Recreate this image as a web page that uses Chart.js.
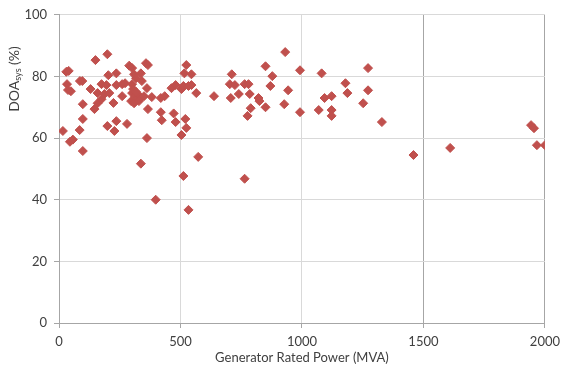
<!DOCTYPE html>
<html>
<head>
<meta charset="utf-8">
<script src="https://cdn.jsdelivr.net/npm/chart.js@4/dist/chart.umd.min.js"></script>
<style>
html,body{margin:0;padding:0;background:#fff;}
canvas{display:block;}
</style>
</head>
<body>
<canvas id="c" width="566" height="370"></canvas>
<script>
// Generator rated power (MVA)
const genPowerMVA = [
  16,30,40,33,37,49,45,57,86,96,85,98,98,98,130,150,199,146,159,175,159,187,207,175,195,203,236,236,224,260,260,272,236,199,228,280,
  289,301,309,317,337,341,358,366,362,301,305,301,313,321,329,337,350,297,309,329,317,382,419,435,463,480,504,512,533,545,524,516,545,565,
  366,419,423,472,480,520,524,504,362,573,337,398,512,533,764,
  638,711,703,724,707,740,764,780,785,789,776,821,825,850,878,870,850,931,943,927,992,992,1081,1093,1122,1069,1122,1122,1179,1187,1252,1272,1272,
  1329,1459,1610,1943,1955,1967,2000
];
// DOA_sys (%)
const doaSys = [
  62.3,81.5,81.8,77.5,75.6,75.2,58.8,59.5,78.5,78.5,62.6,71,66.2,55.8,75.9,85.3,87.2,69.4,71.3,72.6,74.6,74.3,74.6,77.5,77.2,80.4,81,77.2,71.4,73.6,77.5,77.8,65.5,63.9,62.3,64.6,
  83.5,82.7,80.7,79.4,81,78.5,84.3,83.7,76.2,77.5,75.9,74.6,73.6,72.6,73.9,73,73.6,72,71.3,72,75,73.3,73,73.6,76.2,77.2,75.9,76.9,76.9,77.2,83.7,81,80.7,74.6,
  69.4,68.4,65.8,68,65.2,66.2,63.3,61,60,53.9,51.7,40,47.7,36.7,46.8,
  73.6,80.7,77.5,77.2,73,74.3,77.5,77.5,74.3,69.7,67.2,73,72,83.3,80.1,76.9,70,87.9,75.5,71,82,68.4,81,73,73.6,69.1,69.1,67.2,77.8,74.6,71.3,82.7,75.5,
  65.2,54.5,56.8,64.2,63.2,57.7,57.7
];
const xTicks = [0, 500, 1000, 1500, 2000];
const yTicks = [0, 20, 40, 60, 80, 100];
const xTitle = 'Generator Rated Power (MVA)';
const yTitleMain = 'DOA';
const yTitleSub = 'sys';
const yTitleTail = ' (%)';

const points = genPowerMVA.map((x, i) => ({x: x, y: doaSys[i]}));

const LIGHT = '#d9d9d9';
const DARK = '#a6a6a6';
const TEXT = '#404040';
const FONT = 'Lato, "Open Sans", sans-serif';

const titlePlugin = {
  id: 'titles',
  afterDraw(chart) {
    const c = chart.ctx;
    const ca = chart.chartArea;
    c.save();
    c.fillStyle = TEXT;
    c.font = '13px ' + FONT;
    c.textAlign = 'center';
    c.textBaseline = 'middle';
    c.fillText(xTitle, (ca.left + ca.right) / 2, 358);
    // y title, rotated, with subscript
    const mainFont = '14px ' + FONT;
    const subFont = '9px ' + FONT;
    c.font = mainFont; const w1 = c.measureText(yTitleMain).width;
    c.font = subFont; const w2 = c.measureText(yTitleSub).width;
    c.font = mainFont; const w3 = c.measureText(yTitleTail).width;
    const total = w1 + w2 + w3;
    c.translate(14, 79);
    c.rotate(-Math.PI / 2);
    c.textAlign = 'left';
    c.textBaseline = 'middle';
    let x0 = -total / 2;
    c.font = mainFont; c.fillText(yTitleMain, x0, 0); x0 += w1;
    c.font = subFont; c.fillText(yTitleSub, x0, 4); x0 += w2;
    c.font = mainFont; c.fillText(yTitleTail, x0, 0);
    c.restore();
  }
};

new Chart(document.getElementById('c'), {
  type: 'scatter',
  data: {
    datasets: [{
      data: points,
      pointStyle: 'rectRot',
      pointRadius: 4.5,
      pointHoverRadius: 4.5,
      backgroundColor: '#C0504D',
      borderColor: '#C0504D',
      borderWidth: 1
    }]
  },
  options: {
    responsive: false,
    animation: false,
    events: [],
    layout: {padding: {top: 13, right: 15, bottom: 0, left: 0}},
    plugins: {legend: {display: false}, tooltip: {enabled: false}},
    scales: {
      x: {
        type: 'linear',
        min: 0, max: 2000,
        afterBuildTicks(scale) { scale.ticks = xTicks.map(v => ({value: v})); },
        afterFit(scale) { scale.height = 47; },
        border: {display: true, color: DARK, width: 1},
        grid: {
          color: ctx => ([0, 1500, 2000].includes(ctx.tick && ctx.tick.value) ? DARK : LIGHT),
          tickColor: DARK,
          tickLength: 5,
          drawTicks: true
        },
        ticks: {
          color: TEXT, font: {family: FONT, size: 13}, padding: 6, maxRotation: 0,
          callback: v => String(v)
        }
      },
      y: {
        type: 'linear',
        min: 0, max: 100,
        afterBuildTicks(scale) { scale.ticks = yTicks.map(v => ({value: v})); },
        afterFit(scale) { scale.width = 59; },
        border: {display: true, color: DARK, width: 1},
        grid: {
          color: ctx => (ctx.tick && ctx.tick.value === 0 ? DARK : LIGHT),
          tickColor: DARK,
          tickLength: 5,
          drawTicks: true
        },
        ticks: {color: TEXT, font: {family: FONT, size: 13}, padding: 7, callback: v => String(v)}
      }
    }
  },
  plugins: [titlePlugin]
});
</script>
</body>
</html>
